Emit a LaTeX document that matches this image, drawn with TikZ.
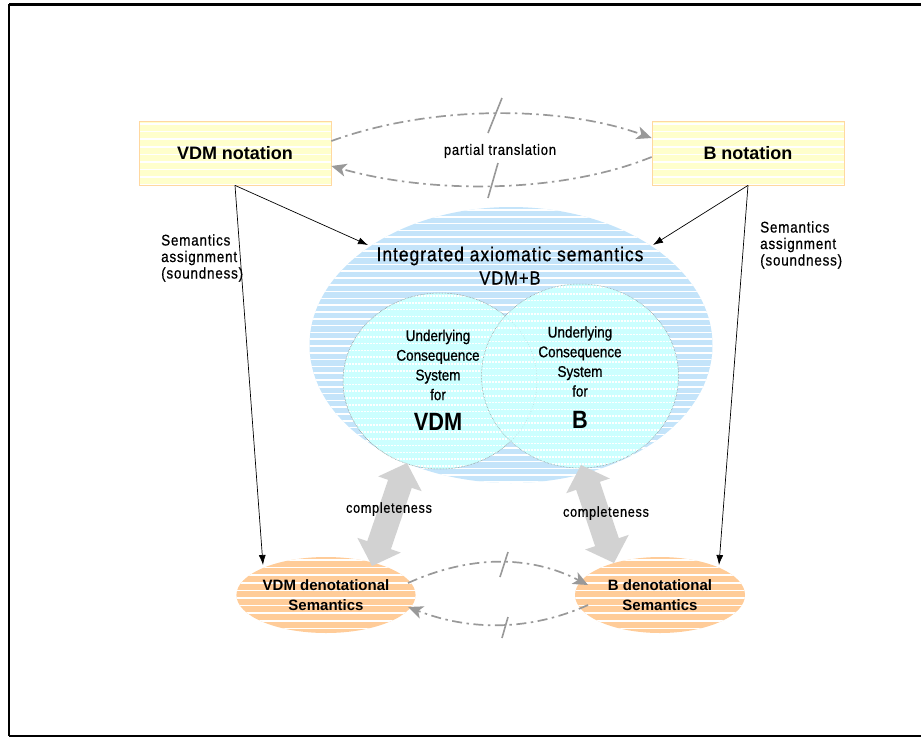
\documentclass[tikz,border=0pt]{standalone}
\usepackage{fontspec}
\setmainfont{Liberation Sans}
\newfontfamily\narrowfont[FakeStretch=0.87,FakeBold=0.8]{Liberation Sans}
\newfontfamily\narrowbold[FakeStretch=0.87]{Liberation Sans Bold}
\newfontfamily\spacedfont[FakeStretch=0.87,LetterSpace=5,FakeBold=0.6]{Liberation Sans}
\usetikzlibrary{calc,arrows.meta,shapes.geometric}
\definecolor{yel}{HTML}{FFFFCC}
\definecolor{yelb}{HTML}{FFD8A0}
\definecolor{bigb}{HTML}{C4E4FA}
\definecolor{cyn}{HTML}{CCFFFF}
\definecolor{org}{HTML}{FFCC99}
\definecolor{dg}{HTML}{999999}
\definecolor{fat}{HTML}{D2D2D2}
\newcommand\fatdarrow[2]{%
  \coordinate (h1) at ($(#1)!22pt!(#2)$);
  \coordinate (h2) at ($(#2)!22pt!(#1)$);
  \fill[fat] (#1) -- ($(h1)!23pt!90:(#2)$) -- ($(h1)!12.5pt!90:(#2)$)
    -- ($(h2)!12.5pt!-90:(#1)$) -- ($(h2)!23pt!-90:(#1)$) -- (#2)
    -- ($(h2)!23pt!90:(#1)$) -- ($(h2)!12.5pt!90:(#1)$)
    -- ($(h1)!12.5pt!-90:(#2)$) -- ($(h1)!23pt!-90:(#2)$) -- cycle;}
\begin{document}
\begin{tikzpicture}[x=1pt,y=-1pt,
  stripes/.style={path picture={\foreach \k in {0,...,60}{\draw[white,line width=1.6pt] ($(path picture bounding box.north west)+(-2pt,{-(\k*#1+3)*1pt})$) -- ++(1000pt,0pt);}}},
  notebox/.style={rectangle, draw=yelb, line width=0.8pt, fill=yel, stripes=7.6, minimum width=192pt, minimum height=64pt, inner sep=0pt, font=\bfseries\fontsize{18}{20}\selectfont},
  denot/.style={ellipse, fill=org, stripes=7.6, inner sep=0pt, minimum height=76pt, align=center, font=\bfseries\fontsize{15}{20}\selectfont},
  circ/.style={ellipse, fill=cyn, stripes=6.8, inner sep=0pt},
  ddash/.style={draw=dg, line width=1.7pt, dash pattern=on 10pt off 4.5pt on 2.5pt off 4.5pt, -{Stealth[length=15pt,width=13pt,inset=4pt]}},
  slash/.style={draw=dg, line width=1.6pt},
  blk/.style={draw=black, line width=0.7pt, -{Latex[length=10pt,width=7pt]}},
  lbl/.style={font=\spacedfont\fontsize{15.5}{16.5}\selectfont, align=left, anchor=west, inner sep=0pt}]
\useasboundingbox (0,0) rectangle (921,737);
% frame
\draw[line width=3pt] (921,4) -- (9,4);
\draw[line width=2.5pt] (9,4) -- (9,735.5);
\draw[line width=2pt] (9,735.5) -- (921,735.5);

% notation boxes
\node[notebox] (vdm) at (235,153) {VDM notation};
\node[notebox] (bn) at (748,153) {B notation};

% partial translation
\draw[ddash] ($(vdm.east)+(0,-12)$) .. controls (430,105) and (560,105) .. ($(bn.west)+(0,-15)$);
\draw[ddash] ($(bn.west)+(0,4)$) .. controls (560,194) and (430,194) .. ($(vdm.east)+(0,13)$);
\draw[slash] (488,133) -- (502,98);
\draw[slash] (498,163) -- (488,198);
\node[font=\spacedfont\fontsize{15}{16}\selectfont] (pt) at (500,151) {partial translation};

% big ellipse and circles
\node[ellipse, fill=bigb, stripes=6.8, minimum width=403pt, minimum height=276pt, inner sep=0pt] (axi) at (511,345) {};
\node[circ, draw=gray, densely dotted, line width=0.5pt, minimum width=194pt, minimum height=176pt] (cl) at (440,381) {};
\node[circ, draw=gray, densely dotted, line width=0.5pt, minimum width=197pt, minimum height=184pt] (cr) at (580,376) {};
\draw[gray!70, dotted, line width=0.5pt, opacity=0.6] (cl) ellipse [x radius=97pt, y radius=88pt];

\node[font=\spacedfont\fontsize{20}{22}\selectfont] (it) at (510,256) {Integrated axiomatic semantics};
\node[font=\spacedfont\fontsize{19}{20}\selectfont] (vb) at (510,278) {VDM+B};

\node[align=center, font=\narrowfont\fontsize{15.5}{19.7}\selectfont] (lt) at (438,365) {Underlying\\Consequence\\System\\for};
\node[font=\narrowbold\fontsize{25}{26}\selectfont] (lv) at (438,422) {VDM};
\node[align=center, font=\narrowfont\fontsize{15.5}{19.7}\selectfont] (rt) at (580,361.5) {Underlying\\Consequence\\System\\for};
\node[font=\narrowbold\fontsize{25}{26}\selectfont] (rv) at (580,420) {B};

% denotational ellipses
\node[denot, minimum width=175pt] (vden) at (326,595) {VDM denotational\\Semantics};
\node[denot, minimum width=170pt] (bden) at (660,595) {B denotational\\Semantics};

% completeness arrows
\coordinate (ca1) at (407,463); \coordinate (ca2) at (372,566);
\fatdarrow{ca1}{ca2}
\coordinate (cb1) at (581,465); \coordinate (cb2) at (614,563);
\fatdarrow{cb1}{cb2}
\node[font=\spacedfont\fontsize{14.5}{16}\selectfont] (cpl) at (389,509) {completeness};
\node[font=\spacedfont\fontsize{14.5}{16}\selectfont] (cpr) at (606,513) {completeness};

% bottom translations
\coordinate (q1) at (408,583); \coordinate (q2) at (588,585);
\coordinate (q3) at (588,605); \coordinate (q4) at (408,607);
\draw[ddash] (q1) .. controls (470,555) and (530,555) .. (q2);
\draw[ddash] (q3) .. controls (530,631) and (470,631) .. (q4);
\draw[slash] (508,552) -- (500,577);
\draw[slash] (508,617) -- (502,638);

% semantics assignment arrows
\coordinate (e1) at (368,245); \coordinate (e2) at (653,245);
\coordinate (d1) at (263,565); \coordinate (d2) at (719,565);
\draw[blk] (vdm.south) -- (e1);
\draw[blk] (vdm.south) -- (d1);
\draw[blk] (bn.south) -- (e2);
\draw[blk] (bn.south) -- (d2);
\node[lbl] (sl) at (161,258) {Semantics\\assignment\\(soundness)};
\node[lbl] (sr) at (760,245) {Semantics\\assignment\\(soundness)};
\end{tikzpicture}
\end{document}
